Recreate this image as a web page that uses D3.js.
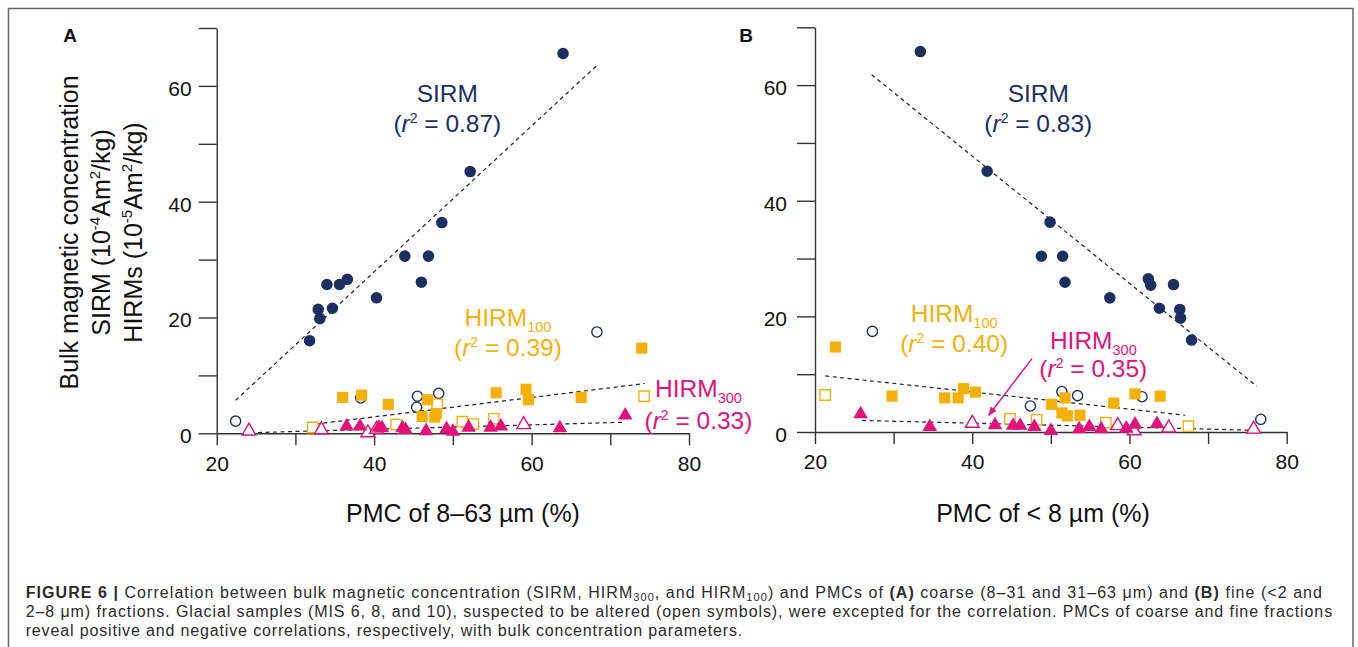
<!DOCTYPE html>
<html><head><meta charset="utf-8">
<script src="https://cdn.jsdelivr.net/npm/d3@7"></script>
<style>
body{margin:0;background:#fff}
svg{display:block}
text{font-family:"Liberation Sans",Arial,Helvetica,sans-serif}
</style>
</head><body>
<svg id="c" width="1358" height="647"></svg>
<script>
// ---------- DATA ----------
const xTicks = [20, 30, 40, 50, 60, 70, 80];
const xTickLabels = ['20', '', '40', '', '60', '', '80'];
const yTicks = [0, 10, 20, 30, 40, 50, 60, 70];
const yTickLabels = ['0', '', '20', '', '40', '', '60', ''];

// Panel A: PMC of 8–63 µm (%)
const aSirmFilled = [[31.8,16.0],[33.1,19.8],[32.9,21.4],[34.7,21.6],[34.0,25.7],[35.6,25.7],[36.6,26.6],[40.3,23.4],[46.0,26.1],[43.9,30.6],[46.9,30.6],[48.6,36.4],[52.2,45.2],[64.0,65.6]];
const aSirmOpen = [[22.4,2.1],[38.3,6.1],[45.5,6.4],[45.4,4.5],[48.2,6.9],[68.3,17.5]];
const aH100Filled = [[36.0,6.2],[38.4,6.6],[41.8,5.0],[46.8,5.8],[46.1,2.9],[47.7,2.8],[47.9,3.4],[55.5,7.0],[59.3,7.6],[59.6,5.8],[66.3,6.2],[74.0,14.7]];
const aH100Open = [[32.2,1.0],[42.8,1.5],[48.0,5.0],[51.2,2.0],[52.6,1.6],[55.2,2.5],[74.3,6.4]];
const aH300Filled = [[36.5,1.2],[38.2,1.2],[40.6,1.0],[41.0,0.9],[43.6,0.9],[44.0,0.6],[46.6,0.4],[49.2,0.75],[50.0,0.3],[52.0,1.0],[54.8,1.0],[56.1,1.2],[63.6,0.9],[71.9,3.1]];
const aH300Open = [[24.1,0.4],[33.3,0.6],[39.2,0.1],[40.3,0.7],[59.0,1.5]];
const aSirmFit = [[22.4,5.7],[68.2,63.4]];
const aH100Fit = [[32.6,1.6],[74.4,8.6]];
const aH300Fit = [[24.3,0.1],[71.5,1.9]];
const aR2 = ['0.87', '0.39', '0.33'];

// Panel B: PMC of < 8 µm (%)
const bSirmFilled = [[33.4,65.8],[41.9,45.1],[49.9,36.3],[48.8,30.4],[51.5,30.4],[51.8,25.9],[57.5,23.2],[62.4,26.5],[62.7,25.4],[65.6,25.5],[63.8,21.4],[66.4,21.2],[66.5,19.7],[67.9,15.9]];
const bSirmOpen = [[27.3,17.4],[47.4,4.5],[51.4,7.0],[53.4,6.3],[61.6,6.1],[76.7,2.2]];
const bH100Filled = [[22.6,14.7],[29.8,6.2],[36.5,5.9],[38.2,5.9],[38.9,7.5],[40.4,6.9],[50.1,4.8],[51.8,5.9],[51.4,3.3],[52.1,2.8],[53.7,2.9],[58.0,5.0],[60.7,6.6],[63.9,6.2]];
const bH100Open = [[21.3,6.4],[44.8,2.3],[48.2,2.1],[57.0,1.6],[67.5,1.0]];
const bH300Filled = [[25.8,3.1],[34.6,0.9],[42.9,1.2],[45.2,1.1],[46.1,1.1],[47.9,0.9],[50.0,0.2],[53.6,0.5],[54.9,0.9],[56.4,0.5],[59.6,0.6],[60.7,1.3],[63.5,1.4]];
const bH300Open = [[40.0,1.5],[58.5,1.1],[60.6,0.2],[65.0,0.7],[75.8,0.5]];
const bSirmFit = [[27.2,61.8],[76.2,7.9]];
const bH100Fit = [[21.3,9.7],[67.1,2.9]];
const bH300Fit = [[26.0,2.0],[75.8,0.3]];
const bArrow = [[47.6,12.7],[42.1,2.9]];
const bR2 = ['0.83', '0.40', '0.35'];

const seriesNames = ['SIRM', 'HIRM', 'HIRM'];
const seriesSubs = ['', '100', '300'];
const xTitles = ['PMC of 8–63 µm (%)', 'PMC of < 8 µm (%)'];
const panelLetters = ['A', 'B'];
const yTitleLines = ['Bulk magnetic concentration', 'SIRM (10|-4|Am|2|/kg)', 'HIRMs (10|-5|Am|2|/kg)'];

// ---------- STYLE / LAYOUT ----------
const NAVY = '#1b3060', ORANGE = '#f5b10a', MAG = '#e2127b', AX = '#333';
const colors = [NAVY, ORANGE, MAG];
const FONT_LBL = 24.5;

const svg = d3.select('#c');

// outer frame
svg.append('rect').attr('x', 8.5).attr('y', 8.5).attr('width', 1344.5).attr('height', 720)
  .attr('fill', 'none').attr('stroke', '#666').attr('stroke-width', 1.5);

const panels = [
  { letter: panelLetters[0], letterX: 70, xr: [216.7, 689], yr: [433.3, 28], yPad: 7, title: xTitles[0], titleX: 463,
    sets: [aSirmOpen, aSirmFilled, aH100Open, aH100Filled, aH300Open, aH300Filled],
    fits: [aSirmFit, aH100Fit, aH300Fit], r2: aR2,
    labels: [[49.3, 58.7, 53.5], [57.0, 20.0, 14.8], [81.2, 7.8, 2.3]], arrow: null },
  { letter: panelLetters[1], letterX: 746, xr: [815, 1286.7], yr: [432, 27.3], yPad: 10, title: xTitles[1], titleX: 1043,
    sets: [bSirmOpen, bSirmFilled, bH100Open, bH100Filled, bH300Open, bH300Filled],
    fits: [bSirmFit, bH100Fit, bH300Fit], r2: bR2,
    labels: [[48.4, 58.6, 53.4], [37.7, 20.6, 15.4], [55.4, 15.9, 11.1]], arrow: bArrow }
];

// arrow marker
svg.append('defs').append('marker').attr('id', 'arr').attr('viewBox', '0 0 10 10')
  .attr('refX', 9).attr('refY', 5).attr('markerWidth', 9).attr('markerHeight', 9)
  .attr('markerUnits', 'userSpaceOnUse').attr('orient', 'auto')
  .append('path').attr('d', 'M0,1 L10,5 L0,9 Z').attr('fill', MAG);

const symTypes = [d3.symbolCircle, d3.symbolCircle, d3.symbolSquare, d3.symbolSquare, d3.symbolTriangle, d3.symbolTriangle];
const symSizes = [82, 105, 108, 125, 82, 92];
const symColor = [NAVY, NAVY, ORANGE, ORANGE, MAG, MAG];
const symFilled = [false, true, false, true, false, true];

panels.forEach(p => {
  const x = d3.scaleLinear().domain([20, 80]).range(p.xr);
  const y = d3.scaleLinear().domain([0, 70]).range(p.yr);
  const g = svg.append('g');

  // y axis
  const ya = g.append('g').attr('transform', `translate(${p.xr[0]},0)`)
    .call(d3.axisLeft(y).tickValues(yTicks).tickSize(18).tickSizeOuter(0).tickPadding(p.yPad)
      .tickFormat((d, i) => yTickLabels[i]));
  // x axis
  const xa = g.append('g').attr('transform', `translate(0,${p.yr[0]})`)
    .call(d3.axisBottom(x).tickValues(xTicks).tickSize(12).tickSizeOuter(0).tickPadding(10.5)
      .tickFormat((d, i) => xTickLabels[i]));
  [ya, xa].forEach(a => {
    a.attr('font-family', null).attr('font-size', null);
    a.selectAll('path.domain').attr('stroke', AX).attr('stroke-width', 1.4);
    a.selectAll('.tick line').attr('stroke', AX).attr('stroke-width', 1.4);
    a.selectAll('.tick text').attr('font-size', 21).attr('fill', '#111');
  });
  ya.selectAll('.tick text').attr('dy', '0.45em');

  // x title
  g.append('text').attr('x', p.titleX).attr('y', 521.7).attr('text-anchor', 'middle')
    .attr('font-size', 25).attr('fill', '#111').text(p.title);

  // panel letter
  g.append('text').attr('x', p.letterX).attr('y', 41.5).attr('text-anchor', 'middle')
    .attr('font-size', 19).attr('font-weight', 'bold').attr('fill', '#111').text(p.letter);

  // fit lines
  const line = d3.line().x(d => x(d[0])).y(d => y(d[1]));
  p.fits.forEach(f => {
    g.append('path').attr('d', line(f)).attr('fill', 'none').attr('stroke', '#222')
      .attr('stroke-width', 1.2).attr('stroke-dasharray', '4,3.5');
  });

  // markers
  p.sets.forEach((s, k) => {
    const sym = d3.symbol().type(symTypes[k]).size(symSizes[k]);
    g.append('g').selectAll('path').data(s).join('path')
      .attr('transform', d => `translate(${x(d[0])},${y(d[1])})`)
      .attr('d', sym)
      .attr('fill', symFilled[k] ? symColor[k] : '#fff')
      .attr('stroke', symFilled[k] ? 'none' : symColor[k])
      .attr('stroke-width', 1.4);
  });

  // arrow
  if (p.arrow) {
    g.append('line').attr('x1', x(p.arrow[0][0])).attr('y1', y(p.arrow[0][1]))
      .attr('x2', x(p.arrow[1][0])).attr('y2', y(p.arrow[1][1]))
      .attr('stroke', MAG).attr('stroke-width', 1.4).attr('marker-end', 'url(#arr)');
  }

  // labels
  p.labels.forEach((L, k) => {
    const cx = x(L[0]);
    const t1 = g.append('text').attr('x', cx).attr('y', y(L[1]) + 0.36 * FONT_LBL)
      .attr('text-anchor', 'middle').attr('font-size', FONT_LBL).attr('fill', colors[k]);
    t1.append('tspan').text(seriesNames[k]);
    if (seriesSubs[k]) t1.append('tspan').attr('font-size', 14.5).attr('dy', 6).text(seriesSubs[k]);
    const t2 = g.append('text').attr('x', cx).attr('y', y(L[2]) + 0.36 * FONT_LBL)
      .attr('text-anchor', 'middle').attr('font-size', FONT_LBL).attr('fill', colors[k]);
    t2.append('tspan').text('(');
    t2.append('tspan').attr('font-style', 'italic').text('r');
    t2.append('tspan').attr('font-size', 14).attr('dy', -9).text('2');
    t2.append('tspan').attr('dy', 9).text(' = ' + p.r2[k] + ')');
  });
});

// y title (panel A)
const yTitleX = [78.3, 110, 141.7];
yTitleLines.forEach((ln, i) => {
  const t = svg.append('text').attr('transform', `translate(${yTitleX[i]},232.5) rotate(-90)`)
    .attr('text-anchor', 'middle').attr('font-size', 25).attr('fill', '#111');
  const parts = ln.split('|');
  parts.forEach((pt, j) => {
    const ts = t.append('tspan').text(pt);
    if (j % 2 === 1) ts.attr('font-size', 15).attr('dy', -10);
    else if (j > 0) ts.attr('dy', 10);
  });
});

// caption
const capLines = [
  [['b', 'FIGURE 6 | '], ['n', 'Correlation between bulk magnetic concentration (SIRM, HIRM'], ['s', '300'], ['n', ', and HIRM'], ['s', '100'], ['n', ') and PMCs of '], ['b', '(A)'], ['n', ' coarse (8–31 and 31–63 μm) and '], ['b', '(B)'], ['n', ' fine (<2 and']],
  [['n', '2–8 μm) fractions. Glacial samples (MIS 6, 8, and 10), suspected to be altered (open symbols), were excepted for the correlation. PMCs of coarse and fine fractions']],
  [['n', 'reveal positive and negative correlations, respectively, with bulk concentration parameters.']]
];
const capY = [598, 617, 636];
const capEnd = [1323, 1333, 743];
capLines.forEach((parts, i) => {
  const t = svg.append('text').attr('x', 25.7).attr('y', capY[i]).attr('font-size', 16).attr('fill', '#2b2b2b');
  let shifted = false;
  parts.forEach(([k, s]) => {
    const ts = t.append('tspan').text(s);
    if (k === 'b') ts.attr('font-weight', 'bold');
    if (k === 's') { ts.attr('font-size', 11).attr('dy', 3); shifted = true; }
    else if (shifted) { ts.attr('dy', -3); shifted = false; }
  });
  // stretch letter spacing to match the reference line length
  const nat = t.node().getComputedTextLength();
  const nChars = parts.reduce((a, pr) => a + pr[1].length, 0);
  const target = capEnd[i] - 25.7;
  t.attr('letter-spacing', ((target - nat) / nChars).toFixed(3));
});
</script>
</body></html>
